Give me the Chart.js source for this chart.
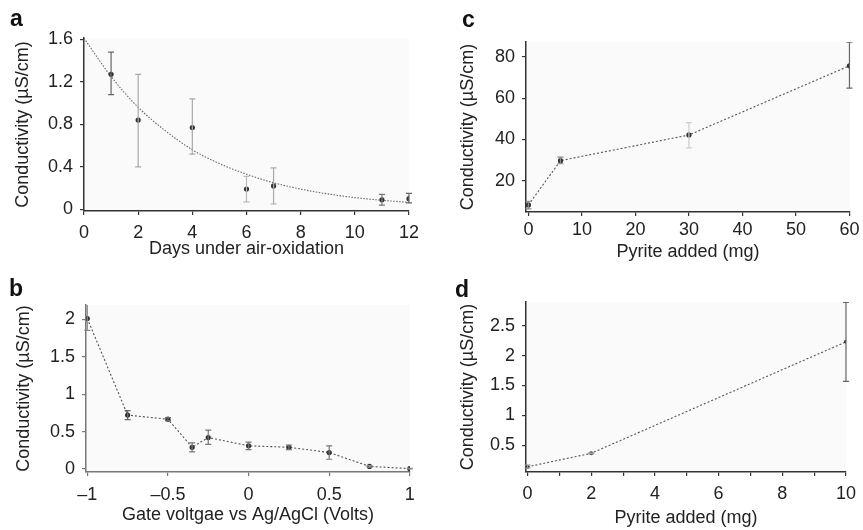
<!DOCTYPE html>
<html><head><meta charset="utf-8">
<script src="https://cdn.jsdelivr.net/npm/chart.js@4/dist/chart.umd.min.js"></script>
<style>
html,body{margin:0;padding:0;background:#fff;}
#wrap{position:relative;width:863px;height:530px;overflow:hidden;font-family:"Liberation Sans",Arial,sans-serif;}
.cv{position:absolute;}
.lab{position:absolute;font-weight:bold;font-size:23px;color:#111;line-height:1;}
</style></head><body>
<div id="wrap">
<div class="cv" style="left:0;top:0;width:430px;height:265px"><canvas id="ca"></canvas></div>
<div class="cv" style="left:430px;top:0;width:433px;height:265px"><canvas id="cc"></canvas></div>
<div class="cv" style="left:0;top:265px;width:430px;height:265px"><canvas id="cb"></canvas></div>
<div class="cv" style="left:430px;top:265px;width:433px;height:265px"><canvas id="cd"></canvas></div>
<div class="lab" style="left:10px;top:7px">a</div>
<div class="lab" style="left:462px;top:8px">c</div>
<div class="lab" style="left:9px;top:277px">b</div>
<div class="lab" style="left:455px;top:278px">d</div>
</div>
<script>
// ---- Panel a: days under air-oxidation ----
const daysA = [1, 2, 4, 6, 7, 11, 12];
const condA = [1.27, 0.84, 0.77, 0.19, 0.22, 0.09, 0.10];
const lowA  = [1.08, 0.40, 0.52, 0.07, 0.05, 0.04, 0.06];
const highA = [1.48, 1.27, 1.04, 0.31, 0.39, 0.14, 0.15];
const fitDaysA = [0, 1, 2, 3, 4, 5, 6, 7, 8, 9, 10, 11, 12];
const fitCondA = [1.61, 1.25, 0.96, 0.74, 0.56, 0.43, 0.33, 0.25, 0.19, 0.145, 0.11, 0.085, 0.065];
const xTicksA = [0, 2, 4, 6, 8, 10, 12];
const yTicksA = [0, 0.4, 0.8, 1.2, 1.6];

// ---- Panel b: gate voltage ----
const voltB = [-1, -0.75, -0.5, -0.35, -0.25, 0, 0.25, 0.5, 0.75, 1];
const condB = [2.01, 0.72, 0.665, 0.29, 0.42, 0.31, 0.29, 0.22, 0.035, 0.005];
const lowB  = [1.85, 0.66, 0.645, 0.23, 0.33, 0.26, 0.26, 0.13, 0.025, 0.0];
const highB = [2.25, 0.78, 0.685, 0.35, 0.52, 0.36, 0.32, 0.31, 0.045, 0.01];
const xTicksB = [-1, -0.5, 0, 0.5, 1];
const yTicksB = [0, 0.5, 1, 1.5, 2];

// ---- Panel c: pyrite added ----
const pyrC = [0, 6, 30, 60];
const condC = [8.4, 29.8, 42.2, 75.6];
const lowC  = [6.5, 28.3, 36.0, 64.8];
const highC = [10.2, 31.5, 48.2, 87.0];
const xTicksC = [0, 10, 20, 30, 40, 50, 60];
const yTicksC = [20, 40, 60, 80];

// ---- Panel d: pyrite added (small) ----
const pyrD = [0, 2, 10];
const condD = [0.14, 0.366, 2.23];
const lowD  = [0.12, 0.355, 1.57];
const highD = [0.17, 0.375, 2.89];
const xTicksD = [0, 2, 4, 6, 8, 10];
const yTicksD = [0.5, 1, 1.5, 2, 2.5];

const FONT = "'Liberation Sans', Arial, sans-serif";
const FS = 18;
const YTITLE = 'Conductivity (\u00b5S/cm)';

function pts(xs, ys){ return xs.map((x,i)=>({x:x, y:ys[i]})); }

const bgPlugin = {
  id:'bg',
  beforeDraw(chart){
    const {ctx, chartArea:a} = chart;
    ctx.save(); ctx.fillStyle = '#fafafa';
    ctx.fillRect(a.left, a.top, a.right-a.left, a.bottom-a.top);
    ctx.restore();
  }
};
const errPlugin = {
  id:'err',
  afterDatasetsDraw(chart, args, opts){
    const {ctx, chartArea:a, scales:{x, y}} = chart;
    const xs = opts.xs, lo = opts.lo, hi = opts.hi, cols = opts.colors;
    if(!xs) return;
    ctx.save();
    ctx.beginPath(); ctx.rect(a.left-6, a.top, a.right-a.left+12, a.bottom-a.top); ctx.clip();
    ctx.lineWidth = 1.2;
    xs.forEach((xv,i)=>{
      const px = x.getPixelForValue(xv);
      const p1 = y.getPixelForValue(lo[i]);
      const p2 = y.getPixelForValue(hi[i]);
      ctx.strokeStyle = cols[i];
      ctx.beginPath();
      ctx.moveTo(px, p1); ctx.lineTo(px, p2);
      ctx.moveTo(px-3, p1); ctx.lineTo(px+3, p1);
      ctx.moveTo(px-3, p2); ctx.lineTo(px+3, p2);
      ctx.stroke();
    });
    ctx.restore();
  }
};

function makeChart(id, cfg){
  const ax = (c)=>({
    type:'linear', min:c.min, max:c.max,
    afterBuildTicks: s => { s.ticks = c.ticks.map(v=>({value:v})); },
    afterFit: s => { if (c.w) s.width = c.w; if (c.h) s.height = c.h; },
    grid:{drawOnChartArea:false, drawTicks:true, tickLength:4, color:c.axisCol, lineWidth:1.2},
    border:{display:true, color:c.axisCol, width:1.5},
    ticks:{color:'#222', font:{family:FONT, size:FS}, padding:c.tp, maxRotation:0, autoSkip:false,
      callback: v => c.fmt ? c.fmt(v) : String(v)},
    title:{display:true, text:c.title, color:'#222', font:{family:FONT, size:FS}, padding:c.titlePad}
  });
  return new Chart(document.getElementById(id), {
    type:'scatter',
    data:{datasets: cfg.datasets},
    options:{
      responsive:true, maintainAspectRatio:false, animation:false,
      layout:{padding:cfg.pad},
      plugins:{legend:{display:false}, tooltip:{enabled:false}, err:cfg.err},
      scales:{x: ax(cfg.x), y: ax(cfg.y)}
    },
    plugins:[bgPlugin, errPlugin]
  });
}

const lineStyle = {showLine:true, borderColor:'#555', borderWidth:1.1, borderDash:[2,2],
  pointRadius:2.6, pointBackgroundColor:'#333', pointBorderColor:'#333', pointBorderWidth:0};

const minus = v => String(v).replace('-', '\u2013');

// a
makeChart('ca', {
  pad:{top:38, right:21, left:0, bottom:0},
  datasets:[
    {data:pts(fitDaysA, fitCondA), showLine:true, borderColor:'#666', borderWidth:1.1, borderDash:[1.5,1.5],
     pointRadius:0, tension:0.4, cubicInterpolationMode:'monotone'},
    {data:pts(daysA, condA), showLine:false, pointRadius:2.6, pointBackgroundColor:'#333', pointBorderColor:'#333', pointBorderWidth:0}
  ],
  err:{xs:daysA, lo:lowA, hi:highA, colors:['#666','#aaa','#aaa','#bbb','#aaa','#777','#666']},
  x:{min:0, max:12, ticks:xTicksA, h:54, tp:7, title:'Days under air-oxidation', titlePad:{top:0,bottom:5}, axisCol:'#333'},
  y:{min:-0.016, max:1.612, ticks:yTicksA, w:84, tp:7, title:YTITLE, titlePad:{top:12,bottom:0}, axisCol:'#333',
     fmt:v=>v===0?'0':v.toFixed(1)}
});

// b
makeChart('cb', {
  pad:{top:40, right:20, left:0, bottom:0},
  datasets:[Object.assign({data:pts(voltB, condB)}, lineStyle)],
  err:{xs:voltB, lo:lowB, hi:highB, colors:['#888','#666','#666','#777','#777','#777','#777','#777','#888','#888']},
  x:{min:-1.008, max:1.001, ticks:xTicksB, h:58, tp:8, title:'Gate voltgae vs Ag/AgCl (Volts)', titlePad:{top:0,bottom:4}, axisCol:'#777', fmt:minus},
  y:{min:-0.04, max:2.19, ticks:yTicksB, w:86, tp:7, title:YTITLE, titlePad:{top:13,bottom:0}, axisCol:'#777'}
});

// c
makeChart('cc', {
  pad:{top:42, right:13, left:0, bottom:0},
  datasets:[Object.assign({data:pts(pyrC, condC)}, lineStyle)],
  err:{xs:pyrC, lo:lowC, hi:highC, colors:['#888','#888','#ccc','#666']},
  x:{min:-0.45, max:60.1, ticks:xTicksC, h:53, tp:3, title:'Pyrite added (mg)', titlePad:{top:0,bottom:2}, axisCol:'#333'},
  y:{min:5.0, max:87.1, ticks:yTicksC, w:96, tp:7, title:YTITLE, titlePad:{top:27,bottom:0}, axisCol:'#333'}
});

// d
makeChart('cd', {
  pad:{top:37, right:11, left:0, bottom:0},
  datasets:[Object.assign({data:pts(pyrD, condD)}, lineStyle, {pointRadius:2})],
  err:{xs:pyrD, lo:lowD, hi:highD, colors:['#999','#999','#666']},
  x:{min:-0.05, max:10, ticks:[0,1,2,3,4,5,6,7,8,9,10], h:58, tp:7, title:'Pyrite added (mg)', titlePad:{top:0,bottom:1}, axisCol:'#333',
     fmt:v=>xTicksD.includes(v)?String(v):''},
  y:{min:0.053, max:2.896, ticks:yTicksD, w:96, tp:7, title:YTITLE, titlePad:{top:27,bottom:0}, axisCol:'#333'}
});
</script>
</body></html>
